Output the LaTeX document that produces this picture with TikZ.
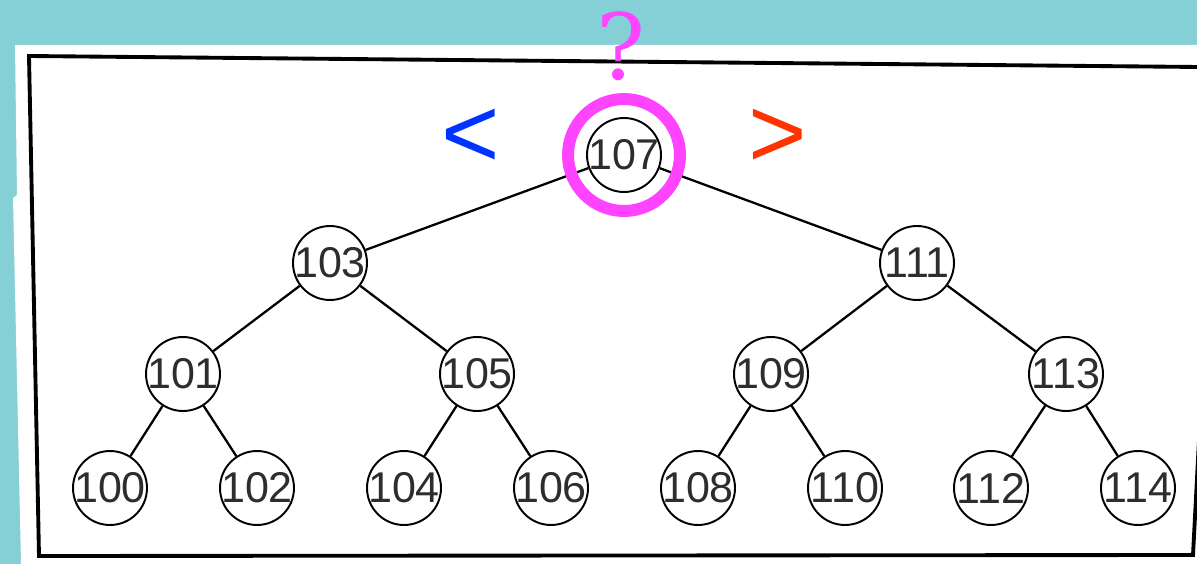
\documentclass[tikz,border=0pt]{standalone}
\usepackage{fontspec}
\setmainfont{Liberation Sans}
\newfontfamily\askfont{DejaVu Serif}
\usetikzlibrary{positioning}
\definecolor{colorsea}  {RGB}{132,208,214}
\definecolor{colorring} {RGB}{255,68 ,255}
\definecolor{colorless} {RGB}{0  ,51 ,255}
\definecolor{colormore} {RGB}{255,51 ,0  }
\definecolor{colortext} {RGB}{45 ,45 ,45 }

\begin{document}
\begin{tikzpicture}[
    x=0.02cm, y=-0.02cm,
    key/.style={circle,draw,line width=1.1pt,minimum size=1.48cm,inner sep=0pt,
        text=colortext,font={\fontsize{24.5}{24.5}\selectfont}},
    edge/.style={line width=1.3pt},
    sign/.style={anchor=base,inner sep=0pt,font={\fontsize{57}{57}\selectfont}},
]

    % background and paper
    \useasboundingbox (0,0) rectangle (1197,564);
    \fill[colorsea] (0,0) rectangle (1197,564);
    \fill[white] (15,45) -- (1197,45) -- (1197,564) -- (21,564) -- (13,198) -- (17,195) -- cycle;
    \draw[line width=2.2pt,line join=miter] (1199,440) -- (1193,555) -- (39,556) -- (29,56) -- (1199,67);

    % the tree
    \node[key] (k107) at (624,155) {\makebox[0pt]{107}};
    \node[key] (k103) at (330,263) {\makebox[0pt]{103}};
    \node[key] (k111) at (917,263) {\makebox[0pt]{111}};
    \node[key] (k101) at (183,374) {\makebox[0pt]{101}};
    \node[key] (k105) at (477,374) {\makebox[0pt]{105}};
    \node[key] (k109) at (771,374) {\makebox[0pt]{109}};
    \node[key] (k113) at (1066,374) {\makebox[0pt]{113}};
    \node[key] (k100) at (110,488) {\makebox[0pt]{100}};
    \node[key] (k102) at (257,488) {\makebox[0pt]{102}};
    \node[key] (k104) at (404,488) {\makebox[0pt]{104}};
    \node[key] (k106) at (551,488) {\makebox[0pt]{106}};
    \node[key] (k108) at (698,488) {\makebox[0pt]{108}};
    \node[key] (k110) at (845,488) {\makebox[0pt]{110}};
    \node[key] (k112) at (991,488) {\makebox[0pt]{112}};
    \node[key] (k114) at (1138,488) {\makebox[0pt]{114}};

    \draw[edge] (k107) -- (k103);
    \draw[edge] (k107) -- (k111);
    \draw[edge] (k103) -- (k101);
    \draw[edge] (k103) -- (k105);
    \draw[edge] (k111) -- (k109);
    \draw[edge] (k111) -- (k113);
    \draw[edge] (k101) -- (k100);
    \draw[edge] (k101) -- (k102);
    \draw[edge] (k105) -- (k104);
    \draw[edge] (k105) -- (k106);
    \draw[edge] (k109) -- (k108);
    \draw[edge] (k109) -- (k110);
    \draw[edge] (k113) -- (k112);
    \draw[edge] (k113) -- (k114);

    % search marks
    \node[circle,draw=colorring,line width=6.8pt,minimum size=2.24cm,inner sep=0pt] (ring) at (k107) {};
    \node[sign,text=colorring,font={\askfont\fontsize{52}{52}\selectfont}] (ask) at (621,80) {?};
    \node[sign,text=colorless] (less) at (471,168) {<};
    \node[sign,text=colormore] (more) at (778,168) {>};

\end{tikzpicture}
\end{document}
